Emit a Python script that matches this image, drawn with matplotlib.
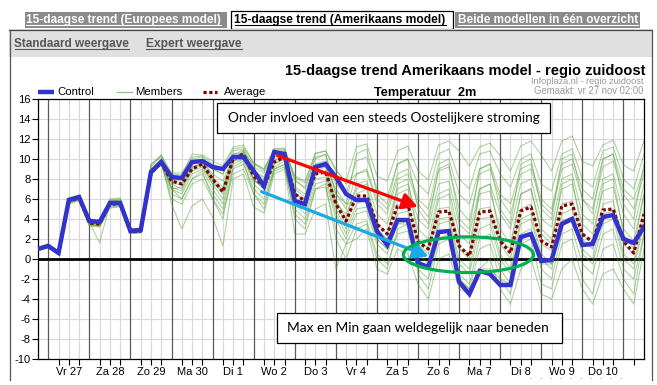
import matplotlib
matplotlib.use('Agg')
import matplotlib.pyplot as plt
import numpy as np
from matplotlib.patches import Rectangle, Ellipse
from matplotlib.lines import Line2D

# ---------------- data ----------------
day_labels = ['Vr 27', 'Za 28', 'Zo 29', 'Ma 30', 'Di 1', 'Wo 2', 'Do 3',
              'Vr 4', 'Za 5', 'Zo 6', 'Ma 7', 'Di 8', 'Wo 9', 'Do 10']

control = [1.0, 1.3, 0.6, 5.9, 6.2, 3.8, 3.7, 5.6, 5.6, 2.8, 2.9, 8.7, 9.7,
           8.2, 8.1, 9.7, 9.8, 9.2, 9.0, 10.2, 10.2, 8.8, 7.3, 10.7, 10.5, 5.8, 5.5, 9.2, 9.5,
           8.2, 6.5, 5.9, 5.9, 2.8, 1.4, 3.9, 3.9, -0.4, -0.8, 2.7, 2.8, -2.3, -3.5, -1.2, -1.5,
           -2.6, -2.6, 2.2, 2.5, -0.2, -0.1, 3.5, 4.0, 1.4, 1.5, 4.2, 4.4, 2.0, 1.6, 3.2]

average = [1.0, 1.3, 0.6, 5.8, 6.1, 3.6, 3.5, 5.5, 5.5, 2.7, 2.8, 8.6, 9.6,
           7.8, 7.5, 9.0, 9.5, 8.0, 6.7, 10.0, 10.5, 8.3, 7.2, 9.7, 10.2, 6.5, 5.8, 8.5, 8.7,
           5.5, 3.8, 6.3, 6.3, 3.5, 2.5, 5.3, 5.5, 1.7, 1.0, 4.7, 4.8, 1.3, 0.3, 4.7, 4.8,
           1.8, 0.6, 4.8, 5.2, 1.8, 1.2, 5.3, 5.5, 2.5, 1.7, 4.9, 5.0, 1.8, 0.6, 4.5]

member_a = [1.1, 1.4, 0.7, 6.0, 6.3, 4.0, 3.9, 5.9, 5.8, 3.0, 3.0, 9.5, 10.2,
            8.5, 8.4, 10.5, 10.4, 9.8, 9.3, 11.2, 11.4, 9.6, 9.0, 11.0, 11.1, 8.2, 7.6, 10.5, 10.8,
            8.8, 7.8, 11.2, 11.5, 8.3, 7.8, 10.8, 11.3, 8.8, 7.9, 11.4, 11.8, 10.8, 9.3, 11.2, 11.6,
            10.3, 8.8, 11.3, 11.8, 10.4, 8.8, 11.8, 12.3, 9.8, 9.3, 11.4, 11.9, 9.4, 8.8, 11.8]
member_b = [1.2, 1.5, 0.8, 5.8, 6.1, 3.5, 3.4, 5.4, 5.5, 2.7, 2.8, 9.0, 10.0,
            8.2, 8.0, 10.0, 10.2, 9.0, 8.5, 10.8, 11.0, 9.2, 8.6, 10.6, 10.8, 7.8, 7.2, 10.2, 10.4,
            7.5, 6.5, 9.8, 10.2, 7.0, 6.2, 9.5, 10.0, 7.5, 6.5, 10.5, 11.0, 8.0, 7.0, 10.5, 10.8,
            8.5, 7.2, 10.0, 10.5, 7.5, 6.8, 10.5, 11.0, 8.0, 7.2, 10.8, 11.2, 8.0, 7.0, 10.5]
member_c = [0.9, 1.2, 0.5, 6.0, 6.2, 3.7, 3.6, 5.6, 5.7, 2.6, 2.7, 8.5, 9.6,
            7.8, 7.6, 9.5, 9.8, 8.5, 7.8, 10.2, 10.6, 8.8, 8.2, 10.0, 10.4, 7.2, 6.5, 9.5, 9.8,
            6.5, 5.0, 8.5, 8.8, 5.5, 4.5, 8.0, 8.5, 5.5, 4.2, 8.8, 9.2, 5.0, 3.8, 8.5, 9.0,
            6.0, 4.5, 8.5, 9.0, 5.5, 4.5, 9.0, 9.5, 6.0, 5.0, 9.2, 9.8, 6.5, 5.0, 8.5]
member_d = [1.0, 1.3, 0.6, 5.7, 6.0, 3.9, 3.8, 5.5, 5.4, 2.8, 2.9, 8.4, 9.5,
            7.5, 7.0, 9.2, 9.6, 7.8, 6.5, 10.0, 10.8, 8.5, 7.5, 9.8, 10.3, 6.5, 5.8, 8.8, 9.2,
            6.0, 4.0, 7.5, 7.8, 4.5, 3.5, 7.0, 7.5, 4.0, 3.0, 7.5, 7.8, 3.5, 2.5, 7.0, 7.5,
            4.5, 3.0, 7.5, 8.0, 4.0, 3.2, 8.0, 8.5, 4.5, 3.5, 8.0, 8.5, 4.5, 3.0, 7.5]
member_e = [1.0, 1.4, 0.6, 6.1, 6.4, 3.6, 3.5, 6.0, 6.1, 3.1, 3.0, 9.2, 10.4,
            8.0, 7.8, 9.6, 9.9, 8.2, 7.2, 10.4, 10.9, 8.8, 8.0, 10.2, 10.6, 7.0, 6.2, 9.0, 9.4,
            5.5, 3.5, 6.5, 7.0, 3.5, 2.5, 6.5, 7.0, 3.0, 2.0, 6.5, 7.0, 2.5, 1.5, 6.5, 6.8,
            3.0, 1.5, 6.5, 7.0, 3.0, 2.0, 7.0, 7.5, 3.5, 2.5, 6.8, 7.2, 3.0, 1.8, 6.5]
member_f = [0.9, 1.3, 0.6, 5.8, 6.2, 3.4, 3.3, 5.4, 5.4, 2.7, 2.7, 8.8, 9.8,
            7.2, 6.8, 8.8, 9.2, 7.5, 6.0, 9.8, 10.3, 8.0, 7.0, 9.5, 10.0, 6.0, 5.0, 8.5, 8.8,
            5.0, 3.0, 5.5, 6.0, 2.5, 1.5, 5.0, 5.5, 1.5, 0.5, 5.0, 5.2, 1.0, 0.0, 5.0, 5.2,
            1.5, 0.0, 5.0, 5.5, 1.5, 0.8, 5.5, 5.8, 2.0, 1.0, 5.5, 5.8, 1.5, 0.5, 5.0]
member_g = [1.1, 1.4, 0.7, 5.6, 5.9, 3.8, 3.7, 5.7, 5.8, 2.9, 2.8, 8.6, 9.7,
            7.0, 6.5, 8.5, 9.0, 7.0, 5.5, 9.5, 10.0, 7.5, 6.5, 9.2, 9.8, 5.5, 4.5, 8.0, 8.2,
            4.5, 2.5, 5.0, 5.2, 2.0, 1.0, 4.5, 4.8, 0.5, -0.5, 4.0, 4.2, 0.0, -1.0, 4.0, 4.2,
            0.5, -1.0, 4.0, 4.5, 0.5, -0.5, 4.5, 5.0, 1.0, 0.0, 4.5, 4.8, 0.5, -0.5, 4.0]
member_h = [1.0, 1.2, 0.5, 5.9, 6.1, 3.5, 3.3, 5.2, 5.3, 2.6, 2.6, 8.5, 9.5,
            6.5, 6.0, 8.0, 8.5, 6.5, 5.0, 9.0, 9.5, 7.0, 6.0, 9.0, 9.5, 5.0, 4.0, 7.5, 7.8,
            4.0, 2.0, 4.5, 4.8, 1.5, 0.5, 3.5, 3.8, 0.0, -1.0, 3.5, 3.8, -0.5, -1.5, 3.0, 3.5,
            0.0, -1.5, 3.5, 4.0, 0.0, -1.0, 3.8, 4.2, 0.5, -0.5, 3.5, 4.0, 0.0, -1.0, 3.5]
member_i = [0.9, 1.2, 0.5, 5.5, 5.8, 3.3, 3.2, 5.1, 5.2, 2.6, 2.6, 8.4, 9.5,
            6.0, 5.5, 7.5, 8.0, 6.0, 4.5, 8.5, 9.0, 6.5, 5.5, 8.8, 9.2, 4.5, 3.5, 7.0, 7.2,
            3.0, 1.5, 3.5, 3.8, 0.5, -0.5, 2.5, 2.8, -1.0, -2.0, 2.0, 2.5, -1.5, -2.5, 2.0, 2.5,
            -1.0, -2.5, 2.5, 3.0, -1.0, -2.0, 2.5, 3.0, -0.5, -1.5, 2.5, 3.0, -1.0, -2.0, 2.5]
member_j = [1.1, 1.3, 0.6, 5.7, 6.0, 3.7, 1.6, 5.5, 5.6, 2.8, 2.8, 8.7, 9.8,
            5.5, 3.0, 5.3, 6.0, 4.2, 1.3, 8.0, 8.5, 5.2, 4.6, 8.5, 9.0, 2.5, 2.5, 5.0, 5.5,
            -1.0, 1.5, 2.0, 3.0, -1.0, -1.5, 1.0, 0.5, -2.5, -4.0, 0.0, 0.5, -3.0, -3.5, -1.0, 0.0,
            -3.0, -4.5, -1.0, 0.0, -3.5, -4.0, -1.0, 0.0, -3.0, -4.5, -1.5, -1.0, -3.0, -4.5, 1.0]
member_k = [1.0, 1.3, 0.6, 6.0, 6.3, 3.8, 3.7, 5.8, 5.9, 2.9, 3.0, 8.9, 9.9,
            7.6, 7.4, 9.2, 9.5, 8.0, 6.8, 9.8, 10.0, 8.0, 7.0, 10.5, 10.2, 5.5, 5.2, 9.0, 9.3,
            7.0, 5.5, 5.8, 5.8, 2.0, 1.0, 3.5, 3.5, -0.5, -1.0, 2.5, 2.8, -2.0, -3.0, -1.0, -1.0,
            -2.0, -2.5, 2.0, 2.5, -0.5, -0.5, 3.5, 4.0, 1.5, 1.5, 4.0, 4.5, 2.0, 1.5, 3.0]
member_l = [1.0, 1.3, 0.6, 5.8, 6.1, 3.7, 3.6, 5.6, 5.6, 2.8, 2.8, 8.6, 9.6,
            8.2, 8.2, 9.8, 9.8, 9.0, 8.5, 10.5, 10.6, 9.5, 8.8, 10.8, 10.9, 8.0, 7.0, 10.0, 10.5,
            6.5, 5.5, 10.5, 11.0, 6.5, 5.5, 9.5, 10.0, 5.0, 3.5, 9.0, 9.5, 4.0, 3.0, 9.0, 9.5,
            5.0, 3.5, 9.5, 10.0, 5.0, 4.0, 10.0, 10.5, 6.0, 4.5, 10.0, 10.5, 5.5, 4.0, 9.5]
member_m = [1.0, 1.4, 0.7, 5.9, 6.2, 3.6, 3.5, 5.7, 5.7, 2.7, 2.8, 8.8, 9.9,
            7.0, 7.2, 9.0, 9.4, 7.5, 7.0, 10.0, 10.4, 7.8, 7.2, 9.6, 10.0, 6.5, 6.0, 8.5, 8.8,
            5.5, 4.5, 7.0, 7.5, 3.0, 2.0, 7.5, 8.0, 2.0, 1.0, 6.0, 6.5, 1.0, 0.5, 7.0, 7.5,
            2.0, 1.0, 6.5, 7.0, 2.5, 1.5, 7.5, 8.0, 2.5, 1.5, 7.5, 8.0, 2.5, 1.0, 6.5]
member_n = [1.1, 1.5, 0.7, 6.1, 6.3, 3.9, 3.8, 5.9, 6.0, 3.0, 3.1, 9.4, 10.4,
            8.6, 8.6, 10.2, 10.3, 9.5, 9.0, 11.0, 11.2, 9.6, 9.0, 11.0, 11.0, 8.3, 7.8, 10.6, 10.8,
            9.0, 7.5, 8.5, 9.0, 6.0, 5.0, 8.5, 9.0, 6.0, 5.0, 9.5, 10.0, 6.5, 5.5, 9.0, 9.5,
            6.5, 5.5, 9.0, 9.5, 6.0, 5.0, 9.5, 10.0, 7.0, 6.0, 10.0, 10.5, 7.0, 6.0, 9.0]
member_o = [0.9, 1.2, 0.5, 5.6, 5.9, 3.4, 3.3, 5.3, 5.3, 2.6, 2.7, 8.5, 9.5,
            7.0, 6.0, 8.0, 8.8, 6.0, 4.0, 9.2, 9.8, 6.5, 5.0, 9.0, 9.4, 4.0, 3.0, 7.0, 7.5,
            2.0, 0.0, 3.0, 3.5, 0.0, -1.0, 3.0, 3.5, -1.5, -3.0, 1.5, 2.0, -2.0, -3.0, 1.0, 1.5,
            -2.0, -3.5, 1.5, 2.0, -2.5, -3.0, 1.5, 2.0, -2.0, -3.5, 1.0, 1.5, -2.0, -3.5, 2.5]

members = [member_a, member_b, member_c, member_d, member_e, member_f, member_g,
           member_h, member_i, member_j, member_k, member_l, member_m, member_n, member_o]

# ---------------- figure ----------------
W, H = 657, 385
fig = plt.figure(figsize=(W / 100, H / 100), dpi=100)
plt.rcParams['font.family'] = ['Liberation Sans', 'DejaVu Sans']
NARROW = ['Liberation Sans Narrow', 'Liberation Sans', 'DejaVu Sans']


def fx(px):
    return px / W


def fy(py):
    return 1 - py / H


renderer = fig.canvas.get_renderer()


def fit_text(x, y, s, target_w, size0=10, ha='left', va='center', **kw):
    t = fig.text(fx(x), fy(y), s, fontsize=size0, ha=ha, va=va, **kw)
    w = t.get_window_extent(renderer).width
    t.set_fontsize(size0 * target_w / w)
    return t


def underline(t, color):
    bb = t.get_window_extent(renderer)
    yb = bb.y0 + 1.0
    fig.add_artist(Line2D([bb.x0 / W, bb.x1 / W], [yb / H, yb / H],
                          transform=fig.transFigure, color=color, lw=0.8))


# page chrome: tabs
fig.add_artist(Rectangle((fx(25), fy(28)), fx(227) - fx(25), (28 - 12) / H,
                         transform=fig.transFigure, fc='#8a8a8a', ec='none'))
fig.add_artist(Rectangle((fx(231), fy(29)), fx(453) - fx(231), (29 - 11) / H,
                         transform=fig.transFigure, fc='white', ec='black', lw=0.9))
fig.add_artist(Rectangle((fx(455), fy(28)), fx(640) - fx(455), (28 - 12) / H,
                         transform=fig.transFigure, fc='#8a8a8a', ec='none'))
t1 = fit_text(26, 20, '15-daagse trend (Europees model)', 195, color='white',
              fontweight='bold', family=NARROW)
t2 = fit_text(234.5, 20, '15-daagse trend (Amerikaans model)', 211, color='black',
              fontweight='bold', family=NARROW)
t3 = fit_text(457.5, 20, 'Beide modellen in één overzicht', 180, color='white',
              fontweight='bold', family=NARROW)
for t, c in [(t1, 'white'), (t2, 'black'), (t3, 'white')]:
    underline(t, c)

# grey bar + frame
fig.add_artist(Rectangle((fx(9), fy(57)), fx(652) - fx(9), (57 - 29) / H,
                         transform=fig.transFigure, fc='#e0e0e0', ec='none'))
fig.add_artist(Line2D([fx(9), fx(652)], [fy(29.5), fy(29.5)], transform=fig.transFigure,
                      color='#444444', lw=0.9))
fig.add_artist(Line2D([fx(9.5), fx(9.5)], [fy(29.5), fy(380)], transform=fig.transFigure,
                      color='#555555', lw=0.9))
fig.add_artist(Line2D([fx(651.5), fx(651.5)], [fy(29.5), fy(380)], transform=fig.transFigure,
                      color='#555555', lw=0.9))
s1 = fit_text(14.5, 44, 'Standaard weergave', 115, color='#555555', fontweight='bold',
              family=NARROW)
s2 = fit_text(146, 44, 'Expert weergave', 96, color='#555555', fontweight='bold',
              family=NARROW)
underline(s1, '#555555')
underline(s2, '#555555')
fig.add_artist(Line2D([fx(530), fx(627)], [fy(378), fy(378)], transform=fig.transFigure,
                      color='#aaaaaa', lw=0.8, ls=(0, (1, 8))))

# titles
fit_text(645, 71, '15-daagse trend Amerikaans model - regio zuidoost', 359, ha='right',
         fontweight='bold', color='black')
fit_text(643.5, 81.5, 'Infoplaza.nl - regio zuidoost', 112.5, ha='right', color='#999999')
fit_text(643.5, 91.5, 'Gemaakt: vr 27 nov 02:00', 110, ha='right', color='#999999')
fit_text(373.5, 93, 'Temperatuur  2m', 103, fontweight='bold', color='black')

# legend (drawn by hand, as on the page)
fig.add_artist(Line2D([fx(38), fx(54)], [fy(92), fy(92)], transform=fig.transFigure,
                      color='#3333cc', lw=3.2, solid_capstyle='butt'))
fig.text(fx(57.5), fy(92), 'Control', fontsize=8.2, va='center', ha='left')
fig.add_artist(Line2D([fx(117), fx(132)], [fy(92), fy(92)], transform=fig.transFigure,
                      color='#8cc47a', lw=0.9))
fig.text(fx(135), fy(92), 'Members', fontsize=8.2, va='center', ha='left')
fig.add_artist(Line2D([fx(203), fx(217)], [fy(92), fy(92)], transform=fig.transFigure,
                      color='#800000', lw=2.3, ls=(0, (1.0, 0.8)), dash_capstyle='butt'))
fig.text(fx(224), fy(92), 'Average', fontsize=8.2, va='center', ha='left')

# ---------------- axes ----------------
ax = fig.add_axes([fx(38), fy(359), (644 - 38) / W, (359 - 99) / H])
x = np.arange(len(control))
ax.set_xlim(0, 59)
ax.set_ylim(-10, 16)

for k in range(1, 59):
    if k % 4 == 1:
        ax.axvline(k, color='#5a5a5a', lw=0.9, zorder=1)
    else:
        ax.axvline(k, color='#dadada', lw=0.9, zorder=0.5)
for yv in range(-8, 16, 2):
    if yv != 0:
        ax.axhline(yv, color='#dadada', lw=0.9, zorder=0.5)
ax.axhline(0, color='black', lw=2.0, zorder=1.5)

for m in members:
    ax.plot(x, m, color='#4f9e32', lw=0.8, alpha=0.45, zorder=2)
ax.plot(x, average, color='#800000', lw=2.3, ls=(0, (1.0, 0.8)), dash_capstyle='butt', zorder=3)
ax.plot(x, control, color='#3333cc', lw=3.2, solid_joinstyle='miter', zorder=4)

ax.set_yticks(range(-10, 17, 2))
ax.set_yticklabels([str(v) for v in range(-10, 17, 2)], fontsize=8)
tick_pos = [k for k in range(1, 59) if k % 4 != 1]
ax.set_xticks(tick_pos)
lab = []
for k in tick_pos:
    if (k - 3) % 4 == 0 and (k - 3) // 4 < len(day_labels):
        lab.append(day_labels[(k - 3) // 4])
    else:
        lab.append('')
ax.set_xticklabels(lab, fontsize=8)
ax.tick_params(axis='both', direction='out', length=4, width=0.8, pad=1.5, color='black')
for sp in ax.spines.values():
    sp.set_color('black')
    sp.set_linewidth(0.9)

# annotations (arrows, ellipse)
ax.annotate('', xy=(36.97, 5.23), xytext=(23.34, 10.33),
            arrowprops=dict(arrowstyle='-|>,head_length=0.65,head_width=0.35', color='#ff0000',
                            lw=2.3, shrinkA=0, shrinkB=0, mutation_scale=14), zorder=6)
ax.annotate('', xy=(38.0, 0.26), xytext=(21.78, 6.73),
            arrowprops=dict(arrowstyle='-|>,head_length=0.65,head_width=0.35', color='#1aa9e6',
                            lw=2.3, shrinkA=0, shrinkB=0, mutation_scale=14), zorder=6)
ax.add_patch(Ellipse((41.9, 0.43), 12.66, 3.57, fill=False, ec='#00b050', lw=2.3, zorder=6))

# text boxes
fig.add_artist(Rectangle((fx(217), fy(133)), fx(550) - fx(217), (133 - 103) / H,
                         transform=fig.transFigure, fc='white', ec='black', lw=0.9, zorder=5))
fit_text(227.7, 118, 'Onder invloed van een steeds Oostelijkere stroming', 310,
         family=['Lato', 'DejaVu Sans'], color='black', zorder=6)
fig.add_artist(Rectangle((fx(277), fy(343)), fx(562) - fx(277), (343 - 313) / H,
                         transform=fig.transFigure, fc='white', ec='black', lw=0.9, zorder=5))
fit_text(287.3, 328, 'Max en Min gaan weldegelijk naar beneden', 262,
         family=['Lato', 'DejaVu Sans'], color='black', zorder=6)

fig.savefig('out.png', dpi=100)
